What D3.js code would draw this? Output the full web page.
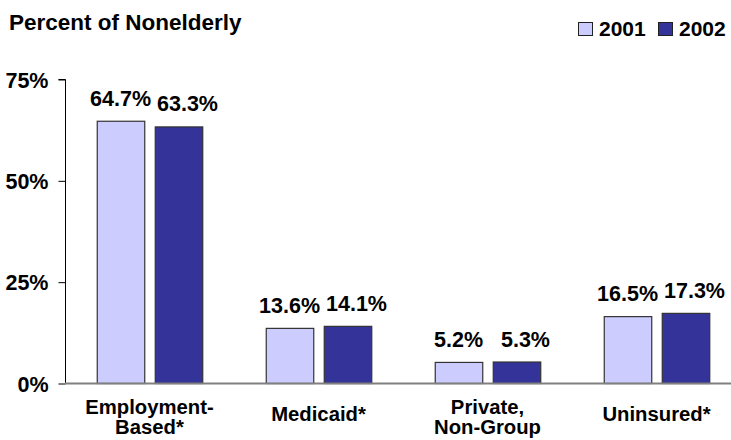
<!DOCTYPE html>
<html>
<head>
<meta charset="utf-8">
<script src="https://cdn.jsdelivr.net/npm/d3@7"></script>
<style>
  html, body { margin: 0; padding: 0; background: #fff; }
  svg { display: block; font-family: "Liberation Sans", Arial, sans-serif; font-weight: bold; }
</style>
</head>
<body>
<svg id="chart" width="731" height="440"></svg>
<script>
// Coverage categories (multi-line labels split on "|")
const categories = ["Employment-|Based*", "Medicaid*", "Private,|Non-Group", "Uninsured*"];
const years = ["2001", "2002"];
const values2001 = [64.7, 13.6, 5.2, 16.5];
const values2002 = [63.3, 14.1, 5.3, 17.3];
const yTicks = [0, 25, 50, 75];
const colors = { "2001": "#ccccff", "2002": "#333399" };
// horizontal nudge of the value labels for each series
const labelShift = { "2001": 0, "2002": 9 };

const svg = d3.select("#chart");
const rows = categories.map((c, i) => ({ cat: c, vals: [
  { year: "2001", v: values2001[i] },
  { year: "2002", v: values2002[i] }
]}));

const y = d3.scaleLinear().domain([0, 75]).range([383.5, 79.5]);
const x0 = d3.scaleBand().domain(categories).range([65, 741]);
const x1 = d3.scaleBand().domain(years).range([-52.75, 52.75]).paddingInner(0.181);

// Title
svg.append("text").attr("x", 9).attr("y", 30)
  .attr("font-size", 22.5).attr("fill", "#000").text("Percent of Nonelderly");

// Legend
const leg = svg.append("g");
const legX = [578, 658];
years.forEach((yr, i) => {
  leg.append("rect").attr("x", legX[i] + 0.5).attr("y", 22.5).attr("width", 14).attr("height", 13)
    .attr("fill", colors[yr]).attr("stroke", "#222").attr("stroke-width", 1);
  leg.append("text").attr("x", legX[i] + 21).attr("y", 36)
    .attr("font-size", 21).attr("fill", "#000").text(yr);
});

// Y axis
const yAxis = d3.axisLeft(y).tickValues(yTicks).tickFormat(d => d + "%").tickSize(7).tickPadding(10);
const ga = svg.append("g").attr("transform", "translate(65.5,0)").call(yAxis);
ga.select(".domain").attr("stroke", "#000").attr("d", `M-7,${y(75)}H0V${y(0)}`);
ga.selectAll(".tick line").attr("stroke", "#000");
ga.selectAll(".tick text").attr("font-size", 21.5).attr("font-family", "Liberation Sans, Arial, sans-serif")
  .attr("font-weight", "bold").attr("fill", "#000").attr("dy", "0.36em");

// Bars
const groups = svg.selectAll(".grp").data(rows).join("g")
  .attr("transform", d => `translate(${x0(d.cat) + x0.bandwidth() / 2},0)`);

groups.selectAll("rect").data(d => d.vals).join("rect")
  .attr("x", d => x1(d.year) + 0.5)
  .attr("y", d => y(d.v))
  .attr("width", x1.bandwidth())
  .attr("height", d => y(0) - y(d.v))
  .attr("fill", d => colors[d.year])
  .attr("stroke", "#333").attr("stroke-width", 1.2);

groups.selectAll("text.val").data(d => d.vals).join("text")
  .attr("class", "val")
  .attr("x", d => x1(d.year) + x1.bandwidth() / 2 + labelShift[d.year])
  .attr("y", d => y(d.v) - 15.5)
  .attr("text-anchor", "middle")
  .attr("font-size", 21.5).attr("fill", "#000")
  .text(d => d.v.toFixed(1) + "%");

// Baseline
svg.append("line").attr("x1", 65).attr("x2", 731).attr("y1", y(0)).attr("y2", y(0))
  .attr("stroke", "#808080").attr("stroke-width", 2);

// Category labels
groups.each(function(d) {
  const lines = d.cat.split("|");
  const t = d3.select(this).append("text").attr("text-anchor", "middle")
    .attr("font-size", 20.3).attr("fill", "#000");
  const y0 = lines.length === 1 ? 421 : 413.5;
  lines.forEach((ln, i) => {
    t.append("tspan").attr("x", 0).attr("y", y0 + i * 20.5).text(ln);
  });
});
</script>
</body>
</html>
